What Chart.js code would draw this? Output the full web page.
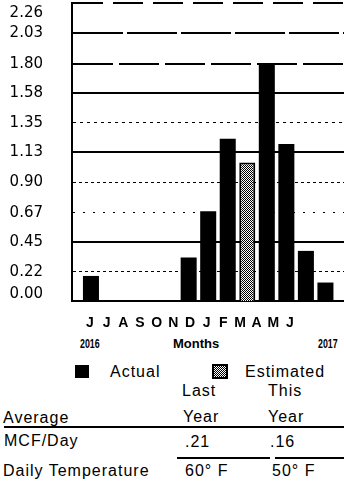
<!DOCTYPE html>
<html>
<head>
<meta charset="utf-8">
<script src="https://cdn.jsdelivr.net/npm/chart.js@4.4.0/dist/chart.umd.min.js"></script>
<style>
  body { margin: 0; background: #fff; }
  #page { position: relative; width: 344px; height: 487px; overflow: hidden; background: #fff; }
  #chart { position: absolute; left: 0; top: 0; }
  .t { position: absolute; font: 16px "Liberation Sans", Arial, sans-serif; line-height: 16px; color: #000; letter-spacing: 1px; white-space: nowrap; }
  .yr { position: absolute; font: bold 13px "Liberation Sans", sans-serif; line-height: 13px; color: #000; white-space: nowrap; }
  .narrow { transform: scaleX(0.68); transform-origin: 0 0; }
  .rule { position: absolute; height: 2px; background: #000; }
  .key-actual { position: absolute; left: 75px; top: 365px; width: 14px; height: 13px; background: #000; }
  .key-est { position: absolute; left: 212px; top: 364px; width: 12px; height: 11px; border: 2px solid #000;
    background: repeating-conic-gradient(#000 0 25%, #fff 0 50%) 0 0 / 2px 2px; }
</style>
</head>
<body>
<div id="page">
  <canvas id="chart" width="344" height="334"></canvas>

  <div class="yr narrow" style="left:80px;top:337px;">2016</div>
  <div class="yr" style="left:173px;top:337px;">Months</div>
  <div class="yr narrow" style="left:318px;top:337px;">2017</div>

  <div class="key-actual"></div>
  <div class="t" style="left:110px;top:364px;">Actual</div>
  <div class="key-est"></div>
  <div class="t" style="left:245px;top:364px;">Estimated</div>

  <div class="t" style="left:182px;top:383px;">Last</div>
  <div class="t" style="left:268px;top:383px;">This</div>
  <div class="t" style="left:3px;top:410px;">Average</div>
  <div class="t" style="left:183px;top:409px;">Year</div>
  <div class="t" style="left:268px;top:409px;">Year</div>
  <div class="rule" style="left:4px;top:426px;width:340px;"></div>

  <div class="t" style="left:4px;top:433px;">MCF/Day</div>
  <div class="t" style="left:185px;top:434px;">.21</div>
  <div class="t" style="left:270px;top:434px;">.16</div>
  <div class="rule" style="left:177px;top:457px;width:93px;"></div>
  <div class="rule" style="left:275px;top:457px;width:69px;"></div>

  <div class="t" style="left:3px;top:463px;">Daily Temperature</div>
  <div class="t" style="left:185px;top:463px;">60° F</div>
  <div class="t" style="left:272px;top:463px;">50° F</div>
</div>

<script>
// monthly gas use, June 2016 - June 2017 (MCF per day)
const months = ['J', 'J', 'A', 'S', 'O', 'N', 'D', 'J', 'F', 'M', 'A', 'M', 'J'];
const usage = [0.19, null, null, null, null, 0.33, 0.68, 1.23, 1.05, 1.80, 1.19, 0.38, 0.14];
const estimated = [false, false, false, false, false, false, false, false, true, false, false, false, false];
const yTicks = [0.00, 0.22, 0.45, 0.67, 0.90, 1.13, 1.35, 1.58, 1.80, 2.03, 2.26];

// line look of each horizontal rule, bottom to top
const gridWidths = [0, 1, 2, 1, 1, 2, 1, 2, 2, 2, 2];
const gridDashes = [[], [3, 3], [], [2, 8], [3, 3], [], [3, 4], [], [40, 6], [50, 4], [30, 10]];

function checker() {
  const c = document.createElement('canvas');
  c.width = 2; c.height = 2;
  const g = c.getContext('2d');
  g.fillStyle = '#fff';
  g.fillRect(0, 0, 2, 2);
  g.fillStyle = '#000';
  g.fillRect(0, 0, 1, 1);
  g.fillRect(1, 1, 1, 1);
  return g.createPattern(c, 'repeat');
}
const estFill = checker();

// value labels on the left, kept inside the plot's height
const yLabels = {
  id: 'yLabels',
  afterDraw(chart) {
    const { ctx } = chart;
    const y = chart.scales.y;
    ctx.save();
    ctx.font = '15px "DejaVu Sans", sans-serif';
    ctx.fillStyle = '#000';
    ctx.textAlign = 'right';
    ctx.textBaseline = 'middle';
    yTicks.forEach(v => {
      let py = y.getPixelForValue(v);
      py = Math.min(Math.max(py, y.top + 10), y.bottom - 7);
      ctx.fillText(v.toFixed(2), y.right - 29, py);
    });
    ctx.restore();
  }
};

new Chart(document.getElementById('chart'), {
  type: 'bar',
  data: {
    datasets: [{
      data: usage.map((v, i) => ({ x: i, y: v })),
      backgroundColor: ctx => estimated[ctx.dataIndex] ? estFill : '#000',
      borderColor: '#000',
      borderWidth: ctx => estimated[ctx.dataIndex] ? 2 : 0,
      barPercentage: 0.82,
      categoryPercentage: 1
    }]
  },
  options: {
    responsive: false,
    devicePixelRatio: 1,
    animation: false,
    layout: { padding: { left: 10, top: 3, right: 0, bottom: 0 } },
    plugins: { legend: { display: false }, tooltip: { enabled: false } },
    scales: {
      x: {
        type: 'linear',
        min: -0.97,
        max: 12.95,
        offset: false,
        weight: 0,
        ticks: { display: false },
        grid: { display: false },
        border: { display: true, color: '#000', width: 2 },
        afterFit: s => { s.height = 2; s.paddingLeft = 0; s.paddingRight = 0; }
      },
      months: {
        type: 'linear',
        position: 'bottom',
        min: -1.08,
        max: 15.24,
        offset: false,
        weight: 1,
        afterBuildTicks: s => { s.ticks = months.map((m, i) => ({ value: i })); },
        ticks: {
          callback: v => months[v],
          autoSkip: false,
          maxRotation: 0,
          padding: 12,
          color: '#000',
          font: { family: 'Liberation Sans', size: 14, weight: 'bold' }
        },
        grid: { display: false, drawTicks: false },
        border: { display: false },
        afterFit: s => { s.height = 31; s.paddingLeft = 0; s.paddingRight = 0; }
      },
      y: {
        min: 0,
        max: 2.26,
        afterBuildTicks: s => { s.ticks = yTicks.map(v => ({ value: v })); },
        ticks: { display: false },
        grid: {
          color: '#000',
          lineWidth: ctx => gridWidths[ctx.index] ?? 0,
          drawTicks: false
        },
        border: {
          display: true,
          color: '#000',
          width: 2,
          dash: ctx => gridDashes[ctx.index] || []
        },
        afterFit: s => { s.width = 62; s.paddingTop = 0; s.paddingBottom = 0; }
      }
    }
  },
  plugins: [yLabels]
});
</script>
</body>
</html>
